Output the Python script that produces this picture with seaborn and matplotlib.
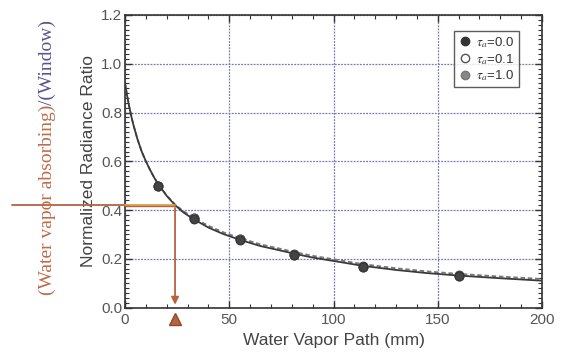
import numpy as np
import pandas as pd
import matplotlib
matplotlib.use("Agg")
import matplotlib.pyplot as plt
import seaborn as sns
from matplotlib.ticker import MultipleLocator
from matplotlib.lines import Line2D

# ---- data ----
curve_x = [0, 1, 2, 3, 4, 6, 8, 10, 12, 14, 16, 20, 24, 28, 33, 40, 47, 55, 65, 75, 81, 90, 100, 114, 130, 145, 160, 180, 200]
curve_y = [0.92, 0.87, 0.825, 0.785, 0.75, 0.69, 0.64, 0.60, 0.565, 0.533, 0.505, 0.458, 0.42, 0.39, 0.362, 0.328, 0.302, 0.278, 0.252, 0.233, 0.221, 0.205, 0.191, 0.171, 0.154, 0.141, 0.131, 0.120, 0.110]
dash_y = [0.92, 0.87, 0.825, 0.785, 0.75, 0.69, 0.64, 0.60, 0.565, 0.533, 0.505, 0.459, 0.423, 0.395, 0.368, 0.335, 0.309, 0.285, 0.259, 0.240, 0.228, 0.212, 0.198, 0.178, 0.161, 0.148, 0.138, 0.127, 0.117]

pts_x = [16, 33, 55, 81, 114, 160]
pts_tau00 = [0.50, 0.365, 0.278, 0.216, 0.167, 0.130]
pts_tau01 = [0.50, 0.366, 0.279, 0.217, 0.168, 0.131]
pts_tau10 = [0.50, 0.367, 0.280, 0.218, 0.169, 0.132]

legend_labels = [r"$\tau_a$=0.0", r"$\tau_a$=0.1", r"$\tau_a$=1.0"]
xticks = [0, 50, 100, 150, 200]
yticks = [0.0, 0.2, 0.4, 0.6, 0.8, 1.0, 1.2]
marker_x, marker_y = 24, 0.42

sns.set_theme(style="white")
plt.rcParams["font.family"] = ["Liberation Sans", "DejaVu Sans"]
plt.rcParams["mathtext.fontset"] = "stix"

fig = plt.figure(figsize=(5.63, 3.56), dpi=100)
ax = fig.add_axes([125/563, (356-307.5)/356, 417/563, 292.5/356])

curve_df = pd.DataFrame({"x": curve_x, "solid": curve_y, "dashed": dash_y})
sns.lineplot(data=curve_df, x="x", y="dashed", ax=ax, color="#777777", lw=1.3,
             linestyle=(0, (2.5, 1.5)), zorder=3)
sns.lineplot(data=curve_df, x="x", y="solid", ax=ax, color="#3a3a3a", lw=1.3, zorder=4)

pts_df = pd.DataFrame({"x": pts_x, "t00": pts_tau00, "t01": pts_tau01, "t10": pts_tau10})
sns.scatterplot(data=pts_df, x="x", y="t10", ax=ax, color="#888888", s=40,
                edgecolor="#444444", linewidth=0.8, zorder=5)
sns.scatterplot(data=pts_df, x="x", y="t01", ax=ax, color="white", s=40,
                edgecolor="#444444", linewidth=0.8, zorder=6)
sns.scatterplot(data=pts_df, x="x", y="t00", ax=ax, color="#444444", s=40,
                edgecolor="#333333", linewidth=0.8, zorder=7)

ax.set_xlim(0, 200)
ax.set_ylim(0, 1.2)
ax.set_xticks(xticks)
ax.set_yticks(yticks)
ax.set_yticklabels([f"{v:.1f}" for v in yticks])
ax.xaxis.set_minor_locator(MultipleLocator(10))
ax.yaxis.set_minor_locator(MultipleLocator(0.02))
ax.tick_params(which="both", direction="in", top=True, right=True, bottom=True, left=True,
               colors="#333333", labelcolor="#555555", labelsize=11)
ax.tick_params(which="major", length=5, width=1)
ax.tick_params(which="minor", length=3, width=0.8)
ax.tick_params(axis="x", pad=4)
ax.tick_params(axis="y", pad=2)
for sp in ax.spines.values():
    sp.set_color("#333333")
    sp.set_linewidth(1.2)

ax.grid(True, which="major", color="#7a7ab0", linestyle=(0, (1.5, 1)), lw=0.9)
ax.set_axisbelow(True)

ax.set_xlabel("Water Vapor Path (mm)", fontsize=12.5, color="#444444", labelpad=4)
ax.set_ylabel("Normalized Radiance Ratio", fontsize=12.5, color="#444444", labelpad=4)

# orange guide lines
orange = "#b8623e"
ax.plot([-54, 0], [marker_y, marker_y], color=orange, lw=1.3, clip_on=False, zorder=8)
ax.plot([0, marker_x], [marker_y, marker_y], color="#d9a23a", lw=1.3, clip_on=False, zorder=8)
ax.plot([0, marker_x], [marker_y - 0.005, marker_y - 0.005], color=orange, lw=1.0, zorder=8)
ax.annotate("", xy=(marker_x, 0.0), xytext=(marker_x, marker_y),
            arrowprops=dict(arrowstyle="-|>", color=orange, lw=1.3, mutation_scale=11),
            zorder=8)
ax.plot([marker_x], [-0.048], marker="^", color=orange, markersize=8, clip_on=False,
        markeredgecolor="#8a4a30", zorder=8)

# legend
handles = [
    Line2D([], [], marker="o", ls="", color="#333333", markersize=6, markeredgecolor="#333333"),
    Line2D([], [], marker="o", ls="", markerfacecolor="white", markersize=6, markeredgecolor="#555555"),
    Line2D([], [], marker="o", ls="", color="#888888", markersize=6, markeredgecolor="#777777"),
]
leg = ax.legend(handles, legend_labels, loc="upper right", bbox_to_anchor=(0.944, 0.945),
                frameon=True, fancybox=False, fontsize=9.5, handletextpad=0.4,
                borderpad=0.3, labelspacing=0.15, handlelength=1.0, borderaxespad=0)
leg.get_frame().set_edgecolor("#333333")
leg.get_frame().set_linewidth(1.0)
for t in leg.get_texts():
    t.set_color("#333333")

# two-colour rotated label
t1 = fig.text(47/563, 1 - 295/356, "(Water vapor absorbing)", rotation=90, ha="center",
              va="bottom", color="#c06a48", fontsize=14, family=["Liberation Serif", "DejaVu Serif"])
fig.canvas.draw()
bb = t1.get_window_extent(renderer=fig.canvas.get_renderer())
fig.text(47/563, bb.y1 / fig.bbox.height, "/(Window)", rotation=90, ha="center",
         va="bottom", color="#55558f", fontsize=14, family=["Liberation Serif", "DejaVu Serif"])

fig.savefig("out.png", dpi=100)
